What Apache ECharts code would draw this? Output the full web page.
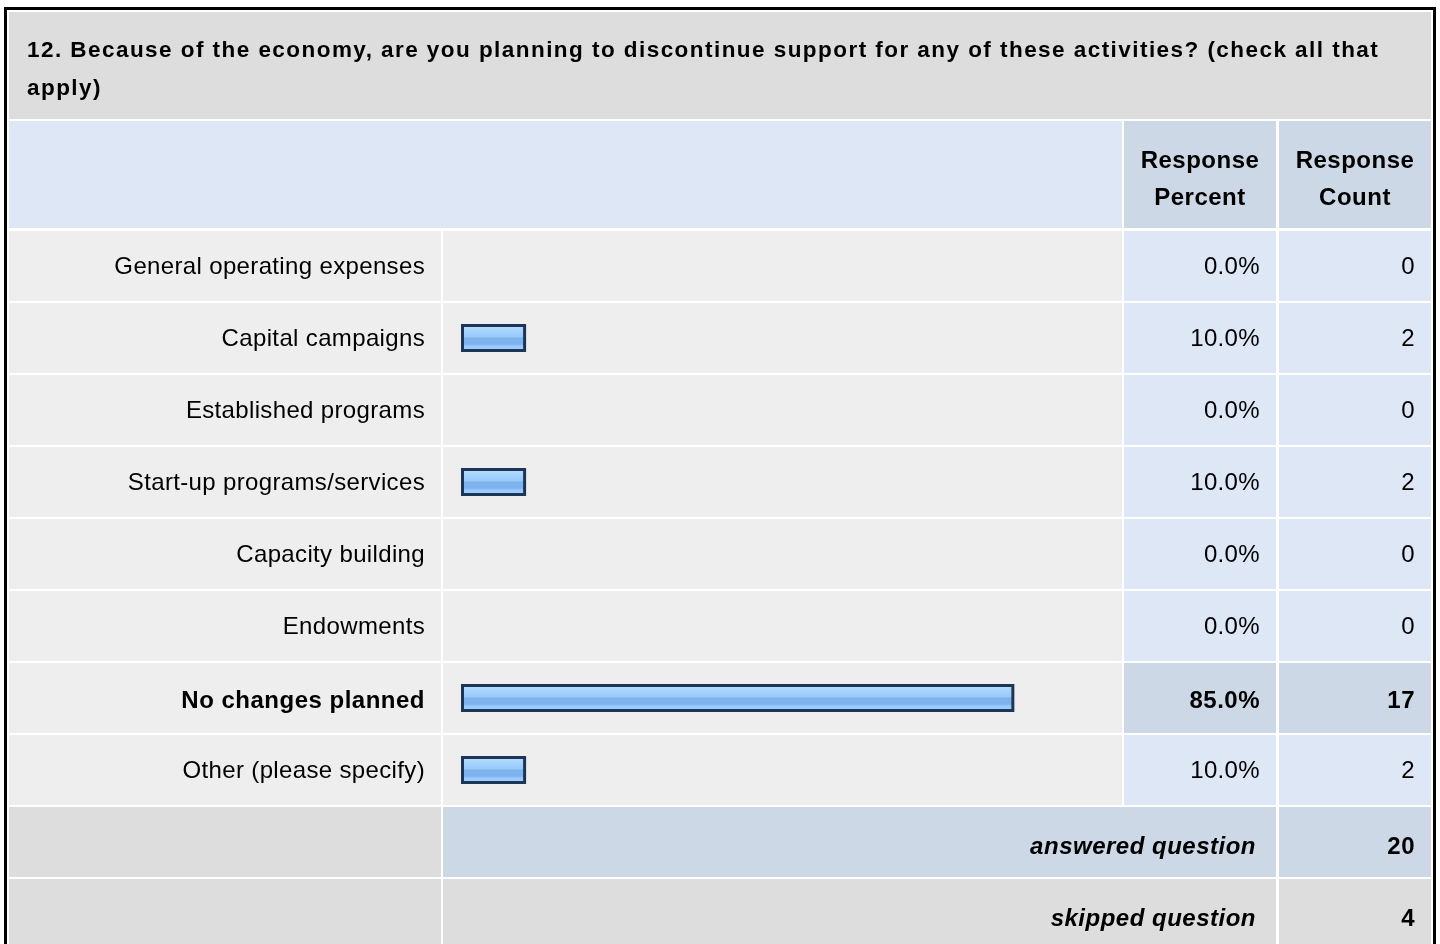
<!DOCTYPE html>
<html>
<head>
<meta charset="utf-8">
<script src="https://cdn.jsdelivr.net/npm/echarts@6/dist/echarts.min.js"></script>
<style>
  html, body { margin: 0; padding: 0; background: #fff; }
  #chart { width: 1440px; height: 944px; }
</style>
</head>
<body>
<div id="chart"></div>
<script>
// ---- Data ----
const questionTitle = '12. Because of the economy, are you planning to discontinue support for any of these activities? (check all that\napply)';
const headerLabels = ['Response\nPercent', 'Response\nCount'];
const categories = [
  'General operating expenses',
  'Capital campaigns',
  'Established programs',
  'Start-up programs/services',
  'Capacity building',
  'Endowments',
  'No changes planned',
  'Other (please specify)'
];
const percents = [0.0, 10.0, 0.0, 10.0, 0.0, 0.0, 85.0, 10.0];
const counts = [0, 2, 0, 2, 0, 0, 17, 2];
const summaryLabels = ['answered question', 'skipped question'];
const summaryCounts = [20, 4];

// ---- Text rendering: the reference uses loosely tracked text ----
(function () {
  const proto = CanvasRenderingContext2D.prototype;
  const orig = proto.fillText;
  proto.fillText = function (t, x, y, m) {
    if (!('letterSpacing' in this)) { return orig.apply(this, arguments); }
    const prev = this.letterSpacing;
    const f = this.font || '';
    let ls = '0.35px';
    if (f.indexOf('22.5px') >= 0) ls = '1.45px';
    else if (f.indexOf('bold') >= 0) ls = '0.5px';
    this.letterSpacing = ls;
    const r = orig.apply(this, arguments);
    this.letterSpacing = prev;
    return r;
  };
})();

// ---- Layout ----
const FONT = '"Liberation Sans", Arial, Helvetica, sans-serif';
const FS = 24;
const ROW = 72;
const GRID_TOP = 230;
const COL = {
  label: [9, 441],
  bar: [443, 1122],
  pct: [1124, 1276],
  cnt: [1279, 1431]
};
const C = {
  titleBg: '#dddddd',
  rowBg: '#eeeeee',
  light: '#dde7f5',
  dark: '#ccd8e6',
  text: '#000000'
};
const maxIdx = percents.indexOf(Math.max.apply(null, percents));

const chart = echarts.init(document.getElementById('chart'), null, { renderer: 'canvas' });

function rect(x0, x1, y, h, fill) {
  return { type: 'rect', shape: { x: x0, y: y, width: x1 - x0, height: h }, style: { fill: fill } };
}
function txt(s, x, y, align, weight, style) {
  return {
    type: 'text',
    style: {
      text: s, x: x, y: y, align: align, verticalAlign: 'middle',
      fill: C.text, fontFamily: FONT, fontSize: FS,
      fontWeight: weight || 'normal', fontStyle: style || 'normal'
    }
  };
}

const tableRows = categories.map((c, i) => [0, i]);

const summaryTop = GRID_TOP + categories.length * ROW;
const graphics = [
  { type: 'rect', z: 10, shape: { x: 5.5, y: 8.5, width: 1429, height: 1100 }, style: { fill: null, stroke: '#000', lineWidth: 3 } },
  Object.assign(rect(9, 1431, 12, 107, C.titleBg), { z: 1 }),
  {
    type: 'text', z: 2,
    style: {
      text: questionTitle, x: 27, y: 32, align: 'left', verticalAlign: 'top',
      fill: C.text, fontFamily: FONT, fontSize: 22.5, fontWeight: 'bold', lineHeight: 38
    }
  },
  Object.assign(rect(9, 1122, 121, 107, C.light), { z: 1 }),
  Object.assign(rect(COL.pct[0], COL.pct[1], 121, 107, C.dark), { z: 1 }),
  Object.assign(rect(COL.cnt[0], COL.cnt[1], 121, 107, C.dark), { z: 1 }),
  {
    type: 'text', z: 2,
    style: { text: headerLabels[0], x: (COL.pct[0] + COL.pct[1]) / 2, y: 180, align: 'center', verticalAlign: 'middle',
      fill: C.text, fontFamily: FONT, fontSize: FS, fontWeight: 'bold', lineHeight: 37 }
  },
  {
    type: 'text', z: 2,
    style: { text: headerLabels[1], x: (COL.cnt[0] + COL.cnt[1]) / 2, y: 180, align: 'center', verticalAlign: 'middle',
      fill: C.text, fontFamily: FONT, fontSize: FS, fontWeight: 'bold', lineHeight: 37 }
  }
];
summaryLabels.forEach((lab, k) => {
  const y = summaryTop + k * ROW + 1;
  const mid = k === 0 ? C.dark : C.titleBg;
  graphics.push(Object.assign(rect(COL.label[0], COL.label[1], y, 70, C.titleBg), { z: 1 }));
  graphics.push(Object.assign(rect(COL.bar[0], COL.pct[1], y, 70, mid), { z: 1 }));
  graphics.push(Object.assign(rect(COL.cnt[0], COL.cnt[1], y, 70, mid), { z: 1 }));
  graphics.push(Object.assign(txt(lab, 1256, y + 40, 'right', 'bold', 'italic'), { z: 2 }));
  graphics.push(Object.assign(txt(String(summaryCounts[k]), 1415, y + 40, 'right', 'bold'), { z: 2 }));
});

const barGradient = new echarts.graphic.LinearGradient(0, 0, 0, 1, [
  { offset: 0.0, color: '#cde5fd' },
  { offset: 0.12, color: '#b3d8fd' },
  { offset: 0.3, color: '#a2d0fc' },
  { offset: 0.46, color: '#97c9f9' },
  { offset: 0.5, color: '#7fb3ee' },
  { offset: 0.72, color: '#7db2ee' },
  { offset: 0.78, color: '#96c8f9' },
  { offset: 1.0, color: '#acd5fd' }
]);

chart.setOption({
  animation: false,
  graphic: graphics,
  grid: { left: 461, top: GRID_TOP, width: 651, height: categories.length * ROW, containLabel: false },
  xAxis: { type: 'value', min: 0, max: 100, show: false },
  yAxis: { type: 'category', data: categories, inverse: true, show: false },
  series: [
    {
      type: 'custom',
      z: 1,
      clip: false,
      silent: true,
      data: tableRows,
      encode: { x: 0, y: 1 },
      renderItem: function (params, api) {
        const i = api.value(1);
        const cy = api.coord([0, i])[1];
        const h = api.size([0, 1])[1];
        const top = cy - h / 2 + 1;
        const hh = h - 2;
        const hi = i === maxIdx;
        const w = hi ? 'bold' : 'normal';
        const ty = cy + (hi ? 3 : 1);
        return {
          type: 'group',
          children: [
            rect(COL.label[0], COL.label[1], top, hh, C.rowBg),
            rect(COL.bar[0], COL.bar[1], top, hh, C.rowBg),
            rect(COL.pct[0], COL.pct[1], top, hh, hi ? C.dark : C.light),
            rect(COL.cnt[0], COL.cnt[1], top, hh, hi ? C.dark : C.light),
            txt(categories[i], 425, ty, 'right', w),
            txt(percents[i].toFixed(1) + '%', 1260, ty, 'right', w),
            txt(String(counts[i]), 1415, ty, 'right', w)
          ]
        };
      }
    },
    {
      type: 'bar',
      z: 3,
      barWidth: 28,
      silent: true,
      data: percents.map(v => v > 0 ? v : { value: v, itemStyle: { opacity: 0, borderWidth: 0 } }),
      itemStyle: { color: barGradient, borderColor: '#1d3658', borderWidth: 3 }
    }
  ]
});
</script>
</body>
</html>
